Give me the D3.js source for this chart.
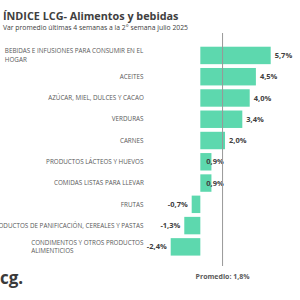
<!DOCTYPE html>
<html>
<head>
<meta charset="utf-8">
<script src="https://cdn.jsdelivr.net/npm/d3@7"></script>
<style>
  body { margin: 0; background: #fff; }
  svg { display: block; font-family: "Open Sans", sans-serif; }
</style>
</head>
<body>
<div id="container"></div>
<script>
const categories = [
  "BEBIDAS E INFUSIONES PARA CONSUMIR EN EL\nHOGAR",
  "ACEITES",
  "AZÚCAR, MIEL, DULCES Y CACAO",
  "VERDURAS",
  "CARNES",
  "PRODUCTOS LÁCTEOS Y HUEVOS",
  "COMIDAS LISTAS PARA LLEVAR",
  "FRUTAS",
  "PRODUCTOS DE PANIFICACIÓN, CEREALES Y PASTAS",
  "CONDIMENTOS Y OTROS PRODUCTOS\nALIMENTICIOS"
]
const values = [5.7, 4.5, 4.0, 3.4, 2.0, 0.9, 0.9, -0.7, -1.3, -2.4]
const promedio = 1.8

const fmt = v => v.toFixed(1).replace(".", ",") + "%"

const width = 300
const height = 300

const svg = d3.create("svg")
    .attr("width", width)
    .attr("height", height)

const x = d3.scaleLinear()
    .domain([-2.4, 5.7])
    .range([170.7, 270.7])

const y = d3.scaleBand()
    .domain(categories)
    .range([44.8, 257.5])
    .paddingInner(0.18)
    .paddingOuter(0.09)

// title
svg.append("text")
    .attr("x", 3).attr("y", 20)
    .attr("font-size", 10.8).attr("font-weight", "bold")
    .attr("fill", "#404040")
    .text("ÍNDICE LCG- Alimentos y bebidas")

svg.append("text")
    .attr("x", 3).attr("y", 29.5)
    .attr("font-size", 6.8)
    .attr("fill", "#404040")
    .text("Var promedio últimas 4 semanas a la 2° semana julio 2025")

// bars
svg.selectAll(".bar")
    .data(values)
    .enter()
    .append("rect")
    .attr("class", "bar")
    .attr("x", d => x(Math.min(0, d)))
    .attr("y", (d, i) => y(categories[i]))
    .attr("width", d => Math.abs(x(d) - x(0)))
    .attr("height", y.bandwidth())
    .attr("fill", "#5dd8ae")

// value labels
svg.selectAll(".val")
    .data(values)
    .enter()
    .append("text")
    .attr("class", "val")
    .attr("x", d => d < 0 ? x(d) - 4 : (d < 1 ? x(0) + 6 : x(d) + 4))
    .attr("y", (d, i) => y(categories[i]) + y.bandwidth() / 2)
    .attr("dy", "0.35em")
    .attr("text-anchor", d => d < 0 ? "end" : "start")
    .attr("font-size", 7.5).attr("font-weight", "bold")
    .attr("fill", "#404040")
    .text(d => fmt(d))

// category labels
const labels = svg.selectAll(".cat")
    .data(categories)
    .enter()
    .append("text")
    .attr("class", "cat")
    .attr("font-size", 6.3)
    .attr("fill", "#595959")

labels.each(function(d) {
    const lines = d.split("\n")
    const t = d3.select(this)
    const cy = y(d) + y.bandwidth() / 2
    const lh = 8.8
    lines.forEach((line, j) => {
        t.append("tspan")
            .attr("x", 0)
            .attr("y", cy + (j - (lines.length - 1) / 2) * lh)
            .attr("dy", "0.35em")
            .text(line)
    })
})

// average line
svg.append("line")
    .attr("x1", x(promedio)).attr("x2", x(promedio))
    .attr("y1", 33).attr("y2", 266)
    .attr("stroke", "#999").attr("stroke-width", 1)

svg.append("text")
    .attr("x", x(promedio)).attr("y", 279)
    .attr("text-anchor", "middle")
    .attr("font-size", 7).attr("font-weight", "bold")
    .attr("fill", "#595959")
    .text("Promedio: " + fmt(promedio))

// logo
svg.append("text")
    .attr("x", 0).attr("y", 284)
    .attr("font-size", 17).attr("font-weight", "bold")
    .attr("fill", "#3a3a3a")
    .text("cg.")

document.querySelector("#container").appendChild(svg.node())

// right-align label blocks at x = 144
labels.each(function() {
    const w = this.getBBox().width
    d3.select(this).attr("transform", `translate(${144 - w},0)`)
})
</script>
</body>
</html>
